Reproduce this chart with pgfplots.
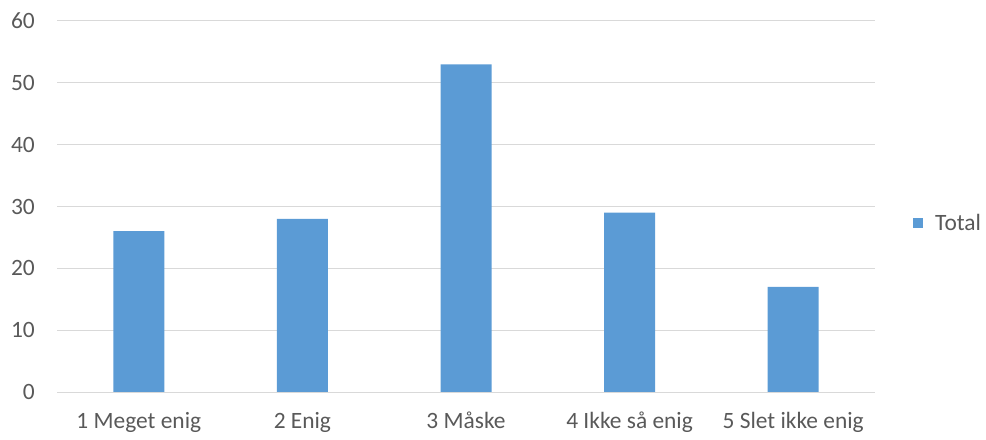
\documentclass[border=0pt]{standalone}
\usepackage{pgfplots}
\pgfplotsset{compat=1.18}
\usepackage{fontspec}
\setmainfont{Carlito}
\definecolor{barblue}{HTML}{5B9BD5}
\definecolor{gridgray}{HTML}{D9D9D9}
\definecolor{txtgray}{HTML}{595959}
\begin{document}
\begin{tikzpicture}
\begin{axis}[
  name=ax,
  scale only axis,
  width=818bp, height=371bp,
  xmin=-0.5, xmax=4.5,
  ymin=0, ymax=60,
  ytick={0,10,...,60},
  xtick=data,
  xticklabels={1 Meget enig, 2 Enig, 3 Måske, 4 Ikke så enig, 5 Slet ikke enig},
  axis line style={draw=none},
  major tick length=0pt,
  ymajorgrids,
  grid style={gridgray, line width=1bp},
  /pgf/number format/assume math mode=true,
  tick label style={font=\fontsize{23.5}{28}\selectfont, text=txtgray},
  yticklabel style={anchor=east, inner sep=0pt, xshift=-22bp},
  xticklabel style={anchor=north, inner sep=0pt, yshift=-20bp},
  legend style={at={(1.0465,0.4555)}, anchor=west, draw=none, inner sep=0pt,
    column sep=12bp,
    nodes={inner sep=0pt, text=txtgray, font=\fontsize{23.5}{28}\selectfont}},
  legend image code/.code={\fill[barblue] (0bp,-5bp) rectangle (10bp,5bp);},
  clip=false,
]
\addplot[ybar, bar width=51bp, fill=barblue, draw=none] coordinates {(0,26) (1,28) (2,53) (3,29) (4,17)};
\addlegendentry{Total}
\draw[gridgray, line width=1bp] (axis cs:-0.5,0) -- (axis cs:4.5,0);
\end{axis}
\useasboundingbox (ax.south west) ++(-57bp,-48bp) rectangle ++(986bp,440bp);
\end{tikzpicture}
\end{document}
